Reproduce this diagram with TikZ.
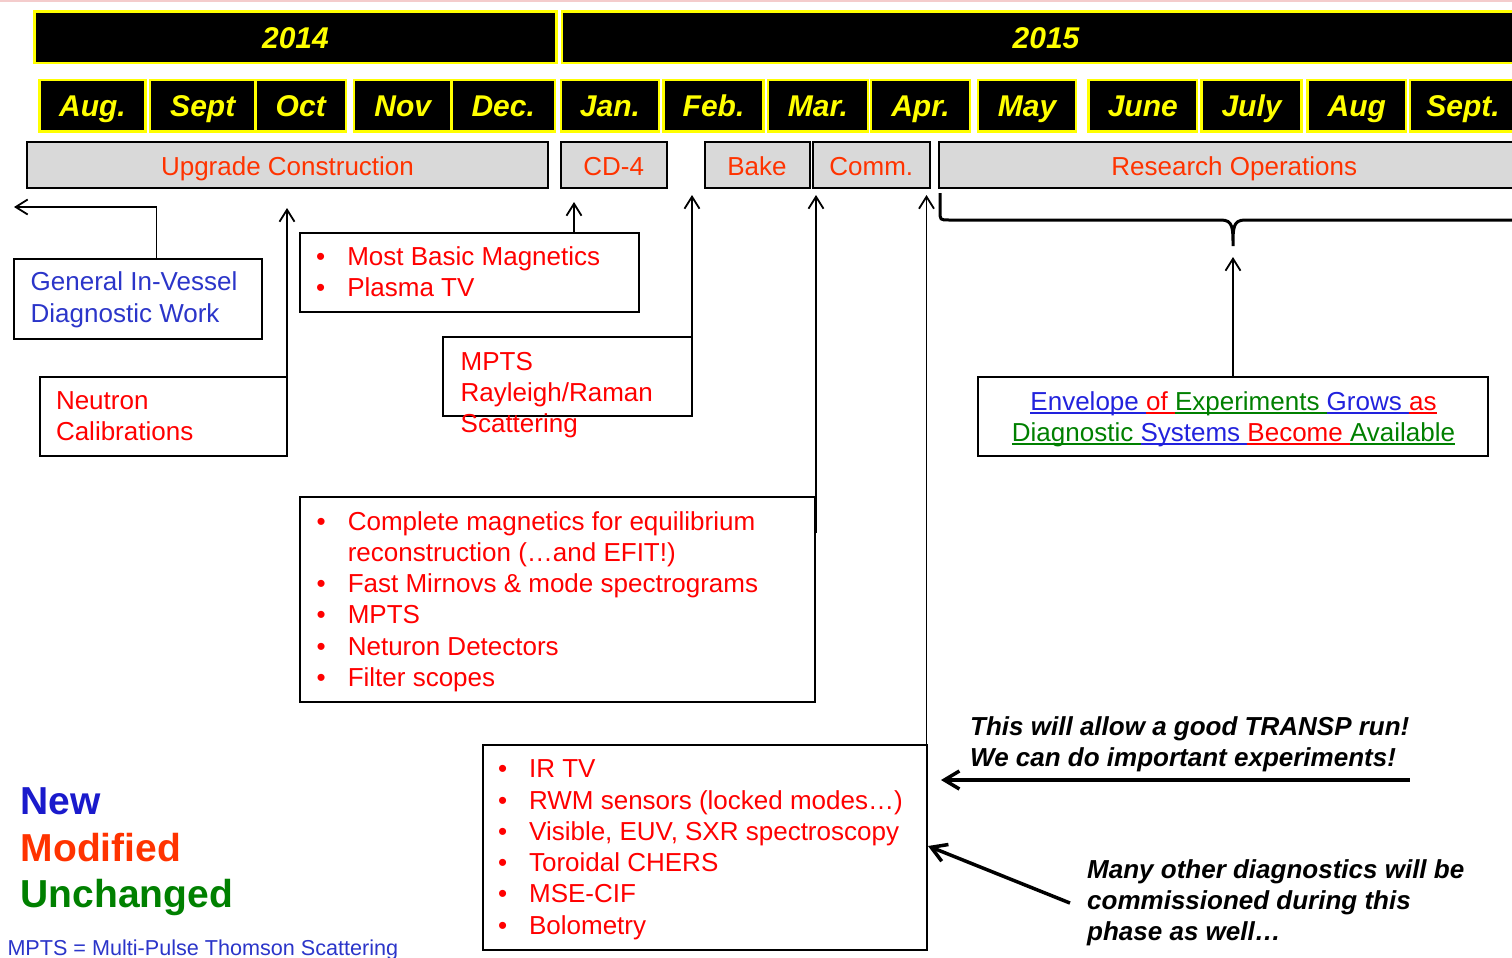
\documentclass[tikz,border=0pt]{standalone}
\usepackage{fontspec}
\setmainfont{Liberation Sans}
\usetikzlibrary{arrows.meta}

\definecolor{hdyellow}{HTML}{FFFF00}
\definecolor{phasegray}{HTML}{D9D9D9}
\definecolor{phasered}{HTML}{FF3300}
\definecolor{diagred}{HTML}{FF0000}
\definecolor{diagblue}{HTML}{2B35C9}
\definecolor{newblue}{HTML}{1A1ACC}
\definecolor{envblue}{HTML}{2222DD}
\definecolor{oldgreen}{HTML}{008000}
\definecolor{topline}{HTML}{F4CCCC}

\newcommand\bodyfont{\fontsize{26}{31.3}\selectfont}
\newcommand\headfont{\fontsize{30}{36}\selectfont\bfseries\itshape}
\newcommand\notefont{\fontsize{26}{31.3}\selectfont\bfseries\itshape}
\newcommand\keyfont{\fontsize{39}{47}\selectfont\bfseries}
\newcommand\lines[1]{\begin{tabular}[t]{@{}l@{}}#1\end{tabular}}
\newcommand\clines[1]{\begin{tabular}[t]{@{}c@{}}#1\end{tabular}}
\newcommand\blist[1]{\begin{tabular}[t]{@{}l@{\hspace{22pt}}l@{}}#1\end{tabular}}
\newcommand\ulw[2]{{\color{#1}\setbox0=\hbox{#2}\rlap{\rule[-4pt]{\wd0}{2pt}}\box0}}

\begin{document}
\begin{tikzpicture}[x=1pt, y=-1pt,
  yearbox/.style={draw=hdyellow, fill=black, line width=2.5pt, text=hdyellow, font=\headfont, inner sep=0pt, minimum height=51.5pt, text height=22pt, text depth=0pt},
  phasebox/.style={draw=black, fill=phasegray, line width=2pt, text=phasered, font=\bodyfont, inner sep=0pt, minimum height=46.5pt, text height=20pt, text depth=0pt},
  boxframe/.style={draw=black, line width=2pt, inner sep=0pt, outer sep=0pt, anchor=north west},
  bodytxt/.style={inner sep=0pt, anchor=base west, font=\bodyfont},
  notetxt/.style={bodytxt, font=\notefont},
  keytxt/.style={inner sep=0pt, anchor=base west, font=\keyfont},
  arr/.style={line width=1.8pt, -{Straight Barb[length=12pt,width=15pt]}},
  bigarr/.style={line width=3.5pt, -{Straight Barb[length=15pt,width=18pt]}}]
\useasboundingbox (0,0) rectangle (1512,958);
\clip (0,0) rectangle (1512,958);
\fill[topline] (0,0) rectangle (1512,2);

% years and months
\node[yearbox, minimum width=522pt] (y2014) at (295.5,37.25) {2014};
\node[yearbox, minimum width=968pt] (y2015) at (1046,37.25) {2015};
\foreach \l/\r/\t [count=\i] in {39.5/145.5/Aug., 150/255.5/Sept, 255.5/346/Oct, 354/451.5/Nov, 451.5/555/Dec.,
    561/659/Jan., 663.5/763.5/Feb., 768/868/Mar., 871/970/Apr., 978/1076/May,
    1088.5/1197/June, 1201.5/1301.5/July, 1307.5/1406/Aug, 1410/1516/Sept.}
  \node[yearbox, minimum width=\r-\l] (mon\i) at ({(\l+\r)/2},105.75) {\t};

% phases
\node[phasebox, minimum width=521pt] (upg) at (287.5,165) {Upgrade Construction};
\node[phasebox, minimum width=105.5pt] (cd4) at (613.75,165) {CD-4};
\node[phasebox, minimum width=105pt] (bake) at (757,165) {Bake};
\node[phasebox, minimum width=117.5pt] (comm) at (871.25,165) {Comm.};
\node[phasebox, minimum width=591.5pt] (ro) at (1234.25,165) {Research Operations};

% diagnostic boxes
\node[boxframe, minimum width=248pt, minimum height=80pt] (gen) at (14,258.5) {};
\node[bodytxt, diagblue] (gentxt) at (30.5,290.7) {\lines{General In-Vessel\\Diagnostic Work}};
\node[boxframe, minimum width=247.5pt, minimum height=78.5pt] (neu) at (39.5,377) {};
\node[bodytxt, diagred] (neutxt) at (55.8,409) {\lines{Neutron\\Calibrations}};
\node[boxframe, minimum width=339pt, minimum height=78.5pt] (mag) at (300,233) {};
\node[bodytxt, diagred] (magtxt) at (316,265) {\blist{\textbullet & Most Basic Magnetics\\ \textbullet & Plasma TV}};
\node[boxframe, minimum width=249pt, minimum height=79pt] (mpts) at (443,337) {};
\node[bodytxt, diagred] (mptstxt) at (460.5,370) {\lines{MPTS\\Rayleigh/Raman\\Scattering}};
\node[boxframe, minimum width=515pt, minimum height=205pt] (cmp) at (300,497) {};
\node[bodytxt, diagred] (cmptxt) at (316.5,530) {\blist{\textbullet & Complete magnetics for equilibrium\\
  & reconstruction (…and EFIT!)\\
  \textbullet & Fast Mirnovs \& mode spectrograms\\
  \textbullet & MPTS\\
  \textbullet & Neturon Detectors\\
  \textbullet & Filter scopes}};
\node[boxframe, minimum width=443.5pt, minimum height=204.5pt] (ir) at (483,745) {};
\node[bodytxt, diagred] (irtxt) at (497.8,777.7) {\blist{\textbullet & IR TV\\
  \textbullet & RWM sensors (locked modes…)\\
  \textbullet & Visible, EUV, SXR spectroscopy\\
  \textbullet & Toroidal CHERS\\
  \textbullet & MSE-CIF\\
  \textbullet & Bolometry}};
\node[boxframe, minimum width=510pt, minimum height=79pt] (env) at (978,377) {};
\node[inner sep=0pt, anchor=base, font=\bodyfont] (envtxt) at (1233.5,410) {\clines{%
  \ulw{envblue}{Envelope }\ulw{diagred}{of }\ulw{oldgreen}{Experiments }\ulw{envblue}{Grows }\ulw{diagred}{as}\\
  \ulw{oldgreen}{Diagnostic }\ulw{envblue}{Systems }\ulw{diagred}{Become }\ulw{oldgreen}{Available}}};

% notes and legend
\node[notetxt] (note1) at (970,735) {\lines{This will allow a good TRANSP run!\\We can do important experiments!}};
\node[notetxt] (note2) at (1087,878) {\lines{Many other diagnostics will be\\commissioned during this\\phase as well…}};
\node[keytxt, newblue] (knew) at (20.5,814) {New};
\node[keytxt, phasered] (kmod) at (20.5,861.5) {Modified};
\node[keytxt, oldgreen] (kunch) at (20.5,907) {Unchanged};
\node[bodytxt, font=\fontsize{21.6}{26}\selectfont, diagblue] (foot) at (7.3,955) {MPTS = Multi-Pulse Thomson Scattering};

% connectors
\coordinate (genend) at (14,207);
\coordinate (upgtip) at (287,208);
\coordinate (cdtip) at (574,202);
\coordinate (baketip) at (692,195);
\coordinate (commtip) at (816,195);
\coordinate (envtip) at (1233,257);
\coordinate (n1tip) at (941,780);
\coordinate (n2tip) at (928,846);
\draw[arr] ([xshift=18.5pt]gen.north) |- (genend);
\draw[arr] (neu.north east) -- (neu.north east |- upgtip);
\draw[arr] (mag.north -| cdtip) -- (cdtip);
\draw[arr] (mpts.north east) -- (mpts.north east |- baketip);
\draw[arr] ([xshift=1pt,yshift=-36pt]cmp.north east) -- ([xshift=1pt]cmp.north east |- commtip);
\draw[arr] (ir.north east) -- (ir.north east |- commtip);
\draw[arr] (env.north) -- (env.north |- envtip);
\draw[bigarr] (note1.south east |- n1tip) -- (n1tip);
\draw[bigarr] ([xshift=-17pt]note2.west) -- (n2tip);

% brace under research operations
\draw[line width=3pt] (940,193) -- (940,211) .. controls (940,220) .. (949,220) -- (1221,220)
  .. controls (1233,220) and (1233,228) .. (1233,246)
  .. controls (1233,228) and (1233,220) .. (1245,220) -- (1530,220);
\end{tikzpicture}
\end{document}
